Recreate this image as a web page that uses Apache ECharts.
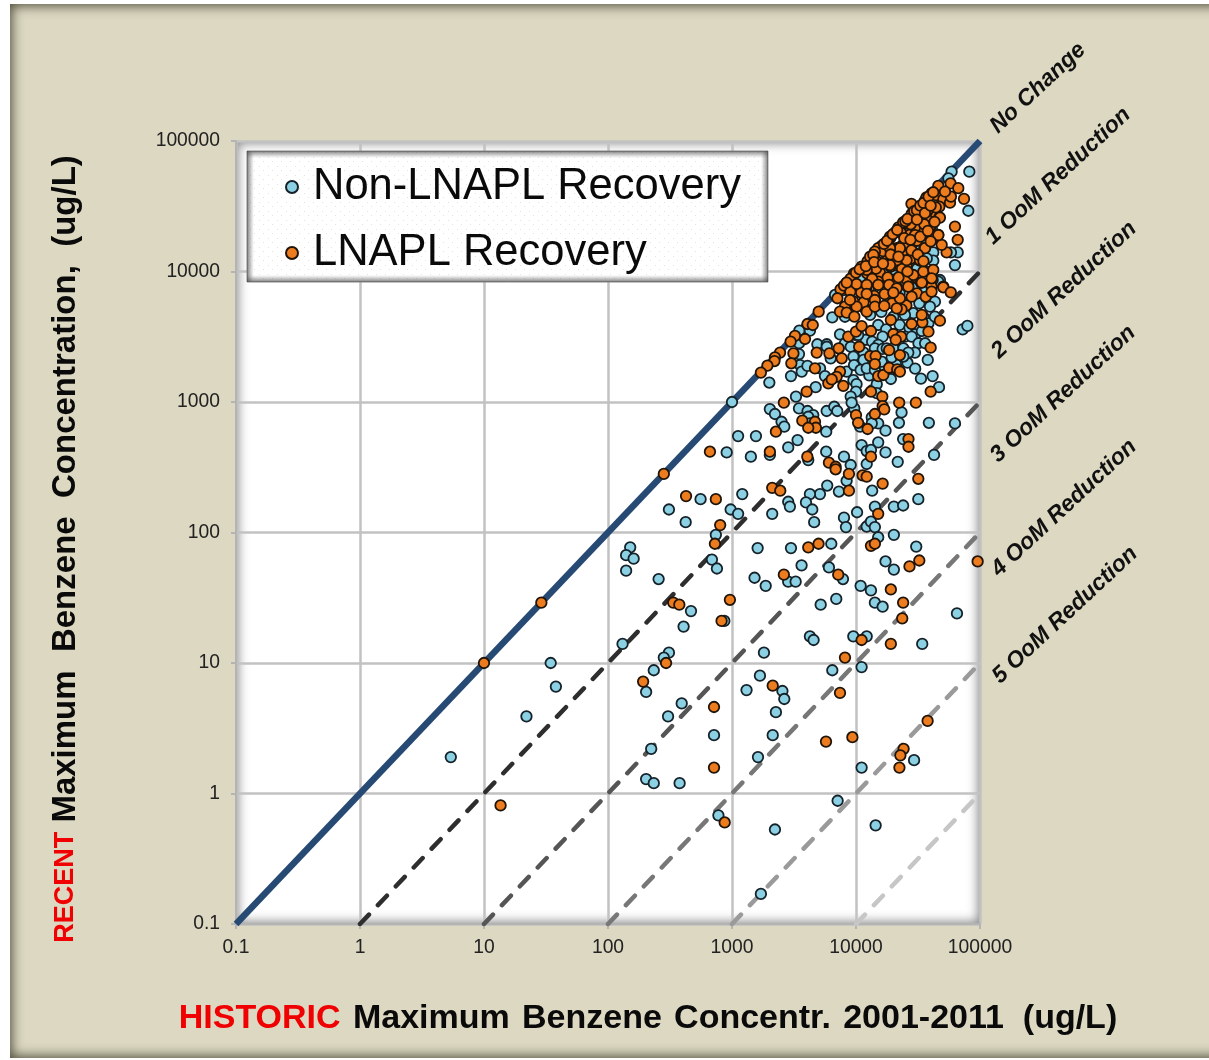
<!DOCTYPE html>
<html><head><meta charset="utf-8">
<script src="https://cdn.jsdelivr.net/npm/echarts@6/dist/echarts.min.js"></script>
<style>
html,body{margin:0;padding:0;background:#fff;width:1209px;height:1060px;overflow:hidden}
#panel{position:absolute;left:10px;top:4px;width:1240px;height:1054px;background:#dcd8c2;box-shadow:inset 0 0 12px 2px rgba(55,55,35,.85)}
#plot{position:absolute;left:236px;top:141px;width:744px;height:783px;background:#fff;box-shadow:inset 0 0 11px 2px rgba(90,90,90,.75)}
#chart{position:absolute;left:0;top:0;width:1209px;height:1060px}
</style></head><body>
<div id="panel"></div><div id="plot"></div><div id="chart"></div>
<script>
var tickLabels=['0.1','1','10','100','1000','10000','100000'];
var seriesNames=['Non-LNAPL Recovery','LNAPL Recovery'];
var lineNames=['No Change','1 OoM Reduction','2 OoM Reduction','3 OoM Reduction','4 OoM Reduction','5 OoM Reduction'];
var lineStarts=[0.1,1,10,100,1000,10000];
var lineEnds=[100000,10000,1000,100,10,1];
var lineColors=['#264a73','#2e2e2e','#555555','#777777','#9a9a9a','#c6c6c6'];

var nonLnapl=[
[59000,58200],[82000,58200],[80500,29200],[62800,11200],[66100,14000],[58300,14000],[42000,14000],[42000,12100],[36000,16900],[35300,19900],[30800,24800],[55600,51800],[29900,28800],[47500,8610],[11100,8870],[7900,7430],[24100,9980],[17700,9980],[37200,9980],[32800,14600],[37200,12600],[18200,11900],[15600,11600],
[20500,9300],[27000,8800],[31000,7500],[35500,7000],[24000,5800],[19000,6100],[12000,5100],[16000,4900],[20000,4500],[22500,3900],[27000,3700],[30000,3300],[34000,3500],[12000,3000],[13500,2900],[11500,2400],[22000,2800],[26000,2000],[30000,1800],[11500,2100],[12800,1600],[17000,1800],[21000,1950],[35000,4500],[31000,10500],[28000,12500],[36000,23000],[41000,21000],[24000,16000],[20000,14000],
[1000,1000],[2000,1410],[2990,1580],[4730,1300],[3280,1100],[3470,2330],[3470,2820],[3490,3520],[4250,3520],[3540,1920],[3650,1710],[4060,1890],[4880,2770],[5810,2770],[5130,1810],[5620,1580],[5810,2650],[6250,2160],[6440,4450],[6780,6610],[7900,7210],[8150,4500],[13000,4650],[7430,3300],[8150,2820],[9820,3270],[10400,3270],[9060,2650],[8410,1710],[9530,2230],[9640,1920],[10900,1760],[12200,1810],[9530,1470],[10100,1370],[10000,1200],[9060,1100],[15100,3890],[17500,3600],[16400,3170],[15100,2740],[14200,2580],[16400,2550],[17700,2580],[20000,2580],[24100,2580],[24800,3170],[28100,3170],[31900,2820],[36100,2820],[29900,2390],[26400,2390],[24100,2230],[19400,2200],[37900,2100],[16100,2040],[14200,1760],[19100,1500],[14700,1370],[14700,1170],[33400,1510],[41500,1580],[46700,1300],[72500,3600],[79100,3830],[43300,5870],[39500,5380],[32400,5700],[29000,4790],[24800,4650],[38400,4010],[43300,4510],[15100,7020],[17700,7210],[13000,8360],[46100,8360],[15100,8000],[22500,6800],
[2020,883],[2220,809],[3470,893],[4070,853],[4520,794],[4120,771],[4250,685],[2510,706],[2640,647],[5800,853],[6680,920],[7060,853],[9680,893],[9220,988],[13400,762],[15100,685],[13400,685],[10800,647],[17300,603],[23300,832],[22200,693],[38700,693],[62800,685],[1120,548],[1560,548],[5750,592],[24000,520],[3380,511],[2840,449],[906,411],[1420,381],[2020,393],[4120,359],[5750,416],[8000,381],[9060,329],[11100,468],[15100,491],[12200,421],[13200,429],[17300,411],[21700,348],[42600,393],[12200,335],[8400,249],[5860,229],[7280,206],[13500,209],[5120,197],[4250,197],[2840,172],[2930,158],[3950,170],[4440,150],[1210,197],[558,180],[975,150],[1120,139],[310,150],[423,120],[2110,139],[4600,120],[8000,130],[10200,143],[14200,158],[20200,158],[24000,161],[31800,180],[8300,110],[12200,111],[13200,121],[14200,110],[15100,92],[20200,96],[741,96],[1610,76],[2990,76],[6320,82],[30600,78],[689,62],[756,53],[3640,56],[6050,54],[17300,60],[20200,52],[151,77],[140,67],[161,63],[140,51],[256,44],[1520,45],[1870,39],[2840,42],[3260,42],[7850,44],[10900,39],[13200,36],[14200,29],[16400,27],[6930,31],[5190,28],[467,25],[407,19],[867,21],[65200,24],[4250,16],[4550,15],[9510,16],[12200,16],[34200,14],[1810,12],[131,14],[310,12],[282,11],
[34.5,10],[38,6.6],[22,3.9],[5.4,1.9],[234,8.8],[203,6.0],[393,4.9],[305,3.9],[716,2.8],[223,2.2],[203,1.29],[234,1.2],[378,1.2],[777,0.68],
[1680,8.0],[1310,6.2],[2550,6.1],[2640,5.3],[2260,4.2],[2130,2.8],[1620,1.9],[6440,8.8],[11100,9.3],[11100,1.58],[7110,0.88],[2220,0.53],[14400,0.57],[29400,1.8],[1710,0.17]
];

var lnapl=[
[57900,47400],[66800,43500],[74300,36000],[62800,22100],[66100,17500],[53800,14000],[46100,45300],[40700,39700],[44200,38500],[50600,35700],[57300,33700],[58300,37500],[52200,40900],[47000,31400],[36000,34900],[35300,31800],[31900,30500],[28100,27600],[33800,26700],[40700,26700],[47000,26000],[24100,23400],[27600,23000],[33800,21800],[39500,21800],[21000,20200],[23300,19900],[19000,18200],[27200,19100],[30500,19100],[46100,19100],[42000,17900],[49100,16000],[35600,15100],[25600,15800],[21300,15100],[18800,15100],[16100,15700],[15100,15100],[14200,13800],[29000,14000],[24100,13800],[20200,12600],[21500,12100],[17700,12100],[14700,11900],[13100,12600],[11100,10900],[9640,9680],[8410,8220],[10100,7890],[12300,9680],[15600,9800],[19000,10900],[25600,11000],[32800,12100],[25600,8710],[30500,9040],[33400,8220],[41500,10100],[41500,8610],[15100,7980],[18200,7980],[21300,7650],[26400,7650],[50600,7650],[40700,7650],[12200,7650],[28000,33000],[37000,37000],[34000,26000],[30000,22000],[26000,25000],[22000,21800],[18000,16500],[16500,14300],[12400,12000],[14500,10500],[23000,15500],[31000,17200],[38500,24500],[44000,31000],[37500,29000],[19500,13000],[27500,12500],[23500,10500],
[18800,18500],[22900,20000],[27600,23000],[24000,23800],[32800,25500],[47500,25900],[39500,22100],[46100,19000],[25600,16000],[29900,19000],[22600,15100],[18800,15100],[14200,14200],[13000,13000],[21300,12200],[18800,11200],[25600,12200],[32800,12200],[36000,15100],[12200,10300],[29000,9400],[34900,9980],[42000,10300],[40700,8870],[20000,8610],[15100,8360],
[13800,13400],[16800,16300],[17800,17200],[19800,19300],[21500,20800],[25000,24300],[26000,25300],[29500,29000],[31000,29500],[33000,32000],[35000,33500],[38500,37500],[42000,40500],[9000,8800],[10000,9800],[10700,10400],[7500,7300],[8000,7800],
[12000,11000],[14000,11800],[16500,11500],[19000,13500],[22000,13000],[24500,18000],[27500,17500],[33000,18500],[35500,23000],[38000,20500],[40000,17000],[43000,24000],[31000,25000],[36000,28000],[40000,32000],[28000,14500],[31500,13500],[35000,12000],[26000,10000],[22000,9000],[18000,9000],[13500,8800],[11000,6900],[9000,7000],[17000,6700],[19500,5700],[25500,5500],[31000,6800],[36500,6400],[11500,5800],[9500,5900],[14000,6500],
[5000,4920],[4060,3960],[4480,3890],[3220,3210],[3880,3040],[2970,2900],[2440,2390],[2220,2200],[2200,2060],[1930,1900],[1710,1680],[3130,2360],[3010,1980],[4820,2390],[6100,2360],[7250,2580],[7670,2160],[4670,1810],[7430,1710],[6980,1560],[5980,1390],[6370,1490],[7900,1330],[4000,1200],[8660,3170],[10000,3460],[11100,3820],[13200,3500],[10600,2650],[13000,2250],[14400,2250],[14200,1950],[15100,1580],[16600,1610],[18500,1830],[21500,1780],[22600,1710],[13200,1200],[16300,1100],[40000,1200],[40000,2610],[22600,2290],[18500,2500],[20000,3320],[23100,3170],[20900,2990],[19100,4250],[28100,3960],[34300,4080],[33900,4650],[47500,4200],[38400,3460],[23300,5130],[21300,5220],[10100,5380],[8150,5380],[7430,4920],[8410,4840],[9700,4510],[12200,4920],[7080,6240],[8950,6050],[10100,8020],[8410,8220],[12200,7890],[12200,6730],[14200,6050],[14200,5380],[16900,5450],[15100,7890],[18500,7890],[21300,7430],[22600,6240],[28100,6410],[26400,7650],[33900,8220],[40700,7020],[50600,7570],[58100,6920],[20000,6880],
[2620,988],[16400,931],[16900,877],[22300,988],[30400,988],[10000,794],[14200,809],[10400,693],[12400,621],[3690,719],[4670,706],[4750,635],[4120,635],[2260,592],[26500,520],[26500,454],[664,416],[2020,416],[4050,381],[6050,343],[6850,319],[6850,305],[13200,381],[8770,281],[11300,274],[12200,268],[16400,237],[31800,258],[282,281],[2110,220],[2450,209],[8770,209],[426,190],[741,180],[15100,139],[803,114],[728,82],[4120,77],[4990,82],[13200,79],[14200,82],[32400,61],[27000,55],[2620,47.5],[7190,47.5],[19100,36.6],[24000,29],[23600,22],[95700,60],[336,29],[376,28],[962,30.5],[824,21],[11100,15],[19100,14],[8150,11],
[10,10],[294,10],[192,7.2],[716,4.6],[716,1.58],[13.6,0.81],[873,0.6],[2130,6.7],[7430,5.9],[5730,2.5],[9350,2.7],[37800,3.6],[24200,2.2],[22800,1.96],[22400,1.58],[29,29]
];

var panelFont='"Liberation Sans",Arial,sans-serif';
function dotPattern(){var c=document.createElement('canvas');c.width=9;c.height=9;var g=c.getContext('2d');g.fillStyle='#fff';g.fillRect(0,0,9,9);g.fillStyle='#e6e4d6';g.fillRect(1,1,1,1);g.fillRect(5,5,1,1);return c;}
function labelFmt(v){return tickLabels[Math.round(Math.log(v)/Math.LN10)+1];}
var lineSeries=lineNames.map(function(n,i){return {name:n,type:'line',symbol:'none',silent:true,z:3,
  data:[[lineStarts[i],0.1],[100000,lineEnds[i]]],
  lineStyle:{color:lineColors[i],width:i?4.5:6.5,type:i?[13,13]:'solid',cap:i?'round':'butt'}};});
var labelPos=[[1038,88],[1058,176],[1064,290],[1063,394],[1064,508],[1065,615]];
var rot=43*Math.PI/180;
var graphics=lineNames.map(function(n,i){return {type:'text',x:labelPos[i][0],y:labelPos[i][1],rotation:rot,silent:true,
  style:{text:n,font:'italic bold 23px '+panelFont,fill:'#111',align:'center',verticalAlign:'middle'}};});
function edge(x,y,w,h,x1,y1,x2,y2){return {type:'rect',shape:{x:x,y:y,width:w,height:h},silent:true,z:20,
  style:{fill:{type:'linear',x:x1,y:y1,x2:x2,y2:y2,colorStops:[{offset:0,color:'rgba(70,70,70,.7)'},{offset:1,color:'rgba(120,120,120,0)'}]}}};}
graphics.push(edge(247,151,521,7,0,0,0,1),edge(247,275,521,7,0,1,0,0),edge(247,151,7,131,0,0,1,0),edge(761,151,7,131,1,0,0,0));
function axis(gap,pad,name,rich,margin){return {type:'log',logBase:10,min:0.1,max:100000,
  name:name,nameLocation:'middle',nameGap:gap,nameTextStyle:{rich:rich,padding:pad},
  axisLine:{show:true,onZero:false,lineStyle:{color:'#b4b4b4',width:2}},
  axisTick:{show:true,length:5,inside:false,lineStyle:{color:'#b4b4b4',width:2}},
  minorTick:{show:false},minorSplitLine:{show:false},
  splitLine:{show:true,lineStyle:{color:'#c2c2c2',width:2.5}},
  axisLabel:{color:'#222',fontSize:19.3,fontFamily:panelFont,margin:margin,formatter:labelFmt}};}
var richX={r:{color:'#f00000',fontSize:34,fontWeight:'bold',fontFamily:panelFont},
           k:{color:'#0a0a0a',fontSize:34,fontWeight:'bold',fontFamily:panelFont}};
var richY={r:{color:'#f00000',fontSize:27,fontWeight:'bold',fontFamily:panelFont},
           k:{color:'#0a0a0a',fontSize:33,fontWeight:'bold',fontFamily:panelFont}};
var chart=echarts.init(document.getElementById('chart'),null,{renderer:'canvas'});
chart.setOption({
  animation:false,backgroundColor:'transparent',
  grid:{left:236,top:141,width:744,height:783,containLabel:false},
  xAxis:axis(78,[0,0,0,80],'{r|HISTORIC}{k|\u00a0\u200aMaximum\u00a0\u200aBenzene\u00a0\u200aConcentr.\u00a0\u200a2001-2011\u00a0\u00a0(ug/L)}',richX,14),
  yAxis:axis(154,[0,33,0,0],'{r|RECENT}{k|\u00a0Maximum\u00a0\u00a0Benzene\u00a0\u00a0Concentration,\u00a0\u00a0(ug/L)}',richY,16),
  legend:{data:seriesNames,left:247,top:151,orient:'vertical',icon:'circle',itemWidth:12,itemHeight:12,itemGap:22,
    padding:[14,27,7,38],backgroundColor:{image:dotPattern(),repeat:'repeat'},borderColor:'#888',borderWidth:1,
    textStyle:{fontSize:43.5,lineHeight:44,color:'#0a0a0a',fontFamily:panelFont,padding:[0,0,0,10]},selectedMode:false},
  graphic:graphics,
  series:lineSeries.concat([
    {name:seriesNames[0],type:'scatter',data:nonLnapl,symbolSize:10.5,z:5,itemStyle:{color:'#8bd0e3',borderColor:'#15222a',borderWidth:1.8,opacity:1}},
    {name:seriesNames[1],type:'scatter',data:lnapl,symbolSize:10.5,z:6,itemStyle:{color:'#ec7c1e',borderColor:'#201408',borderWidth:1.8,opacity:1}}
  ])
});
</script></body></html>
